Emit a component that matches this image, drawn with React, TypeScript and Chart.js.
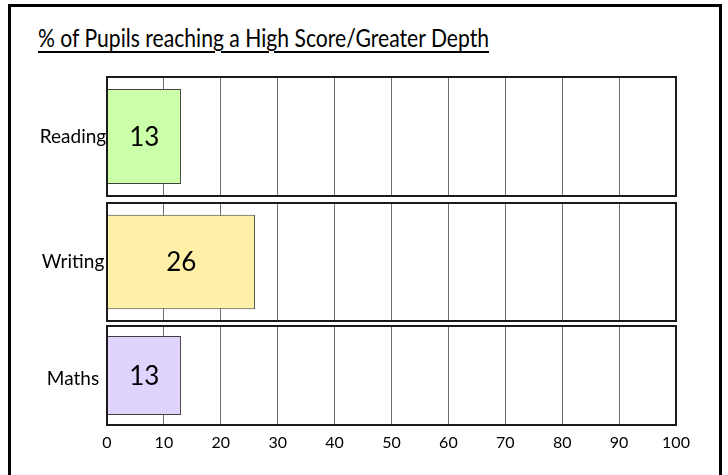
import React, { useEffect, useRef } from "react";
import { Chart, registerables } from "chart.js";

Chart.register(...registerables);

// ---- data ----
const chartTitle = "% of Pupils reaching a High Score/Greater Depth";
const categories = ["Reading", "Writing", "Maths"];
const values = [13, 26, 13];
const xMin = 0;
const xMax = 100;
const xStep = 10;

// ---- styles / layout ----
const barColors = ["#CCFFAA", "#FFF0A8", "#E0D4FF"];
const panels = [
  { top: 77, h: 119 },
  { top: 203, h: 118 },
  { top: 326, h: 99 },
];
const PLOT_LEFT = 107;
const PLOT_RIGHT = 676;
const W = 728;
const FONT = "Lato, 'Open Sans', sans-serif";

const panelPlugin = {
  id: "panelDecor",
  afterDraw(chart: any) {
    const { ctx, chartArea } = chart;
    const idx = chart.options.plugins.panelDecor.index;
    ctx.save();
    // panel border
    ctx.strokeStyle = "#1a1a1a";
    ctx.lineWidth = 2;
    ctx.strokeRect(
      chartArea.left,
      chartArea.top,
      chartArea.right - chartArea.left,
      chartArea.bottom - chartArea.top
    );
    // value label centered in the bar
    const meta = chart.getDatasetMeta(0);
    const bar = meta.data[0];
    if (bar) {
      const p = bar.getProps(["x", "y", "base"], true);
      ctx.fillStyle = "#000";
      ctx.font = `26px ${FONT}`;
      ctx.textAlign = "center";
      ctx.textBaseline = "middle";
      ctx.fillText(String(values[idx]), (p.x + p.base) / 2, p.y + 1);
    }
    // category label centered in the label column
    const yScale = chart.scales.y;
    const cy = yScale.getPixelForValue(0);
    ctx.font = `19px ${FONT}`;
    ctx.textAlign = "center";
    ctx.textBaseline = "middle";
    ctx.fillStyle = "#000";
    ctx.fillText(categories[idx], chartArea.left - 34, cy + (idx === 2 ? 3 : 0));
    ctx.restore();
  },
};

function Panel({ index }: { index: number }) {
  const ref = useRef<HTMLCanvasElement | null>(null);
  const isLast = index === panels.length - 1;
  const p = panels[index];
  const pad = 4;
  const axisH = isLast ? 40 : 0;
  const canvasH = p.h + pad * 2 + axisH;

  useEffect(() => {
    if (!ref.current) return;
    const chart = new Chart(ref.current, {
      type: "bar",
      data: {
        labels: [categories[index]],
        datasets: [
          {
            data: [values[index]],
            backgroundColor: barColors[index],
            borderColor: "#404040",
            borderWidth: 1,
            barPercentage: 0.8,
            categoryPercentage: 1,
          },
        ],
      },
      options: {
        indexAxis: "y",
        animation: false,
        responsive: false,
        maintainAspectRatio: false,
        layout: {
          padding: {
            left: PLOT_LEFT,
            right: W - PLOT_RIGHT,
            top: pad,
            bottom: pad,
          },
        },
        plugins: {
          legend: { display: false },
          tooltip: { enabled: false },
          title: { display: false },
          panelDecor: { index },
        } as any,
        scales: {
          x: {
            min: xMin,
            max: xMax,
            ticks: {
              stepSize: xStep,
              display: isLast,
              padding: 8,
              color: "#000",
              font: { family: FONT, size: 16 },
            },
            grid: { color: "#6e6e6e", lineWidth: 1, drawTicks: false },
            border: { display: false },
            afterFit: (s: any) => {
              s.height = axisH;
            },
          },
          y: {
            ticks: { display: false },
            grid: { display: false },
            border: { display: false },
            afterFit: (s: any) => {
              s.width = 0;
            },
          },
        },
      },
      plugins: [panelPlugin],
    });
    return () => chart.destroy();
  }, [index]);

  return (
    <canvas
      ref={ref}
      width={W}
      height={canvasH}
      style={{
        position: "absolute",
        left: 0,
        top: p.top - pad,
        width: W,
        height: canvasH,
      }}
    />
  );
}

export default function App() {
  return (
    <div
      style={{
        position: "fixed",
        left: 0,
        top: 0,
        width: W,
        height: 475,
        overflow: "hidden",
        background: "#fff",
      }}
    >
      <div
        style={{
          position: "absolute",
          left: 8,
          top: 4,
          width: 714,
          height: 490,
          border: "3px solid #000",
          boxSizing: "border-box",
        }}
      />
      <div
        style={{
          position: "absolute",
          left: 38,
          top: 25,
          fontFamily: FONT,
          fontSize: 25,
          lineHeight: "25px",
          whiteSpace: "nowrap",
          color: "#000",
          textDecoration: "underline",
          textDecorationThickness: "2px",
          textUnderlineOffset: "4px",
          transform: "scaleX(0.845)",
          transformOrigin: "0 0",
        }}
      >
        {chartTitle}
      </div>
      {panels.map((_, i) => (
        <Panel key={i} index={i} />
      ))}
    </div>
  );
}
